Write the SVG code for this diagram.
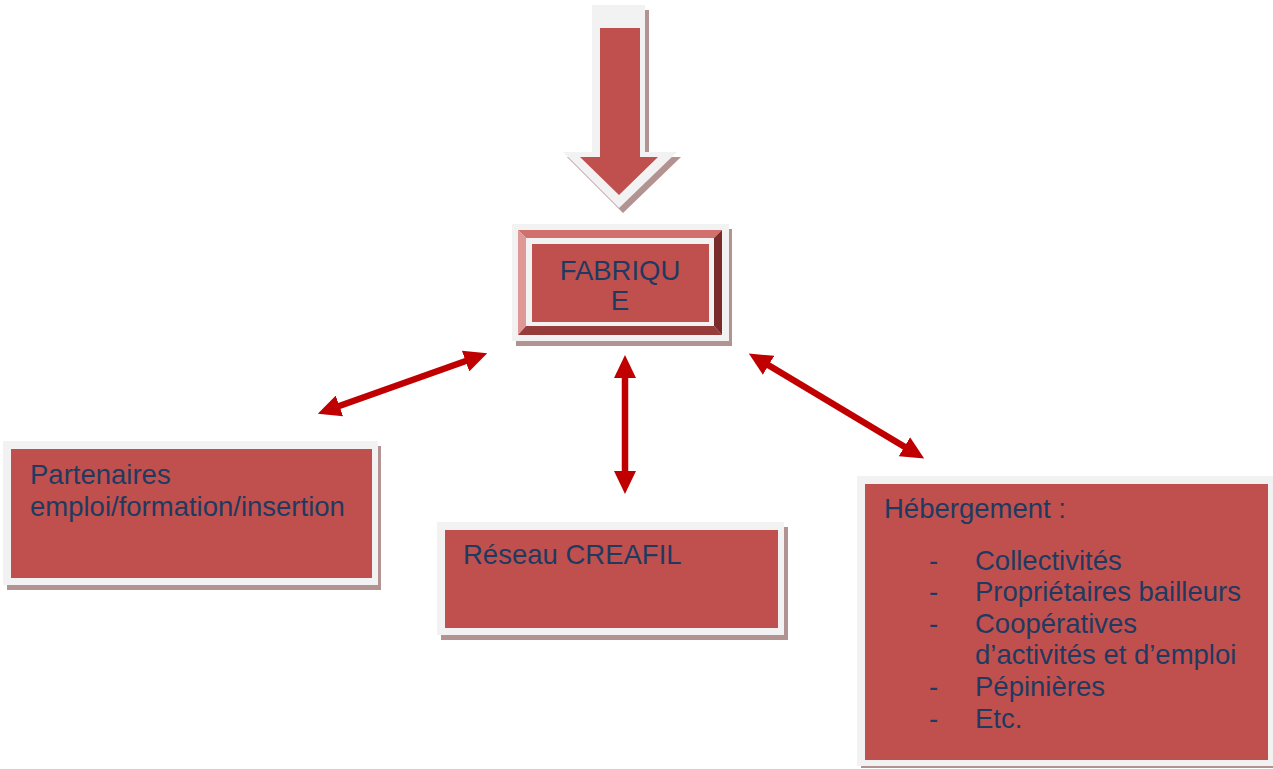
<svg xmlns="http://www.w3.org/2000/svg" width="1273" height="769" viewBox="0 0 1273 769">
<style>
.shadow{fill:#b39292}
.frame{fill:#f2f2f2}
.face{fill:#c0504d}
.t{font-family:"Liberation Sans",Arial,sans-serif;font-size:27.5px;fill:#1f3a60}
.conn{stroke:#c00000;stroke-width:6.5;fill:none;marker-start:url(#head);marker-end:url(#head)}
</style>
<defs>
<marker id="head" markerUnits="userSpaceOnUse" viewBox="0 0 23 22" markerWidth="23" markerHeight="22" refX="1" refY="11" orient="auto-start-reverse">
<path d="M0,0 L23,11 L0,22 z" fill="#c00000"/>
</marker>
</defs>
<rect width="1273" height="769" fill="#ffffff"/>

<g id="top-arrow">
<polygon class="shadow" points="596,10 649,10 649,157 681,157 623,213 567,157 596,157"/>
<polygon class="frame" points="592,5 645,5 645,152 677,152 619,208 563,152 592,152"/>
<polygon class="face" points="600,28 640,28 640,157 658,157 619,195 580,157 600,157"/>
</g>

<g id="fabrique">
<rect class="shadow" x="516" y="229" width="216" height="117"/>
<rect class="frame" x="512" y="224" width="217" height="117"/>
<polygon points="518,230 722,230 714,238 526,238" fill="#d1706c"/>
<polygon points="518,230 526,238 526,326 518,335" fill="#df9896"/>
<polygon points="722,230 722,335 714,326 714,238" fill="#7a2c2a"/>
<polygon points="518,335 722,335 714,326 526,326" fill="#963d3b"/>
<rect class="face" x="532" y="244" width="177" height="78"/>
<text class="t" x="620" y="280" text-anchor="middle">FABRIQU</text>
<text class="t" x="620" y="310" text-anchor="middle">E</text>
</g>

<g id="partenaires">
<rect class="shadow" x="7" y="446" width="374" height="144"/>
<rect class="frame" x="3" y="441" width="375" height="144"/>
<rect class="face" x="11" y="449" width="361" height="129"/>
<text class="t" x="30" y="484">Partenaires</text>
<text class="t" x="30" y="516">emploi/formation/insertion</text>
</g>

<g id="reseau">
<rect class="shadow" x="441" y="527" width="347" height="113"/>
<rect class="frame" x="437" y="522" width="347" height="113"/>
<rect class="face" x="445" y="530" width="333" height="98"/>
<text class="t" x="463" y="564">Réseau CREAFIL</text>
</g>

<g id="hebergement">
<rect class="shadow" x="861" y="481" width="412" height="287"/>
<rect class="frame" x="857" y="476" width="416" height="290"/>
<rect class="face" x="865" y="484" width="403" height="276"/>
<text class="t" x="884" y="518">Hébergement :</text>
<text class="t" x="929" y="570">-</text><text class="t" x="975" y="570">Collectivités</text>
<text class="t" x="929" y="601">-</text><text class="t" x="975" y="601">Propriétaires bailleurs</text>
<text class="t" x="929" y="633">-</text><text class="t" x="975" y="633">Coopératives</text>
<text class="t" x="975" y="664">d’activités et d’emploi</text>
<text class="t" x="929" y="696">-</text><text class="t" x="975" y="696">Pépinières</text>
<text class="t" x="929" y="728">-</text><text class="t" x="975" y="728">Etc.</text>
</g>

<g id="connectors">
<line class="conn" x1="338.5" y1="406.3" x2="466.5" y2="360.7"/>
<line class="conn" x1="625" y1="377" x2="625" y2="472"/>
<line class="conn" x1="767.7" y1="364.8" x2="905.3" y2="447.2"/>
</g>
</svg>
